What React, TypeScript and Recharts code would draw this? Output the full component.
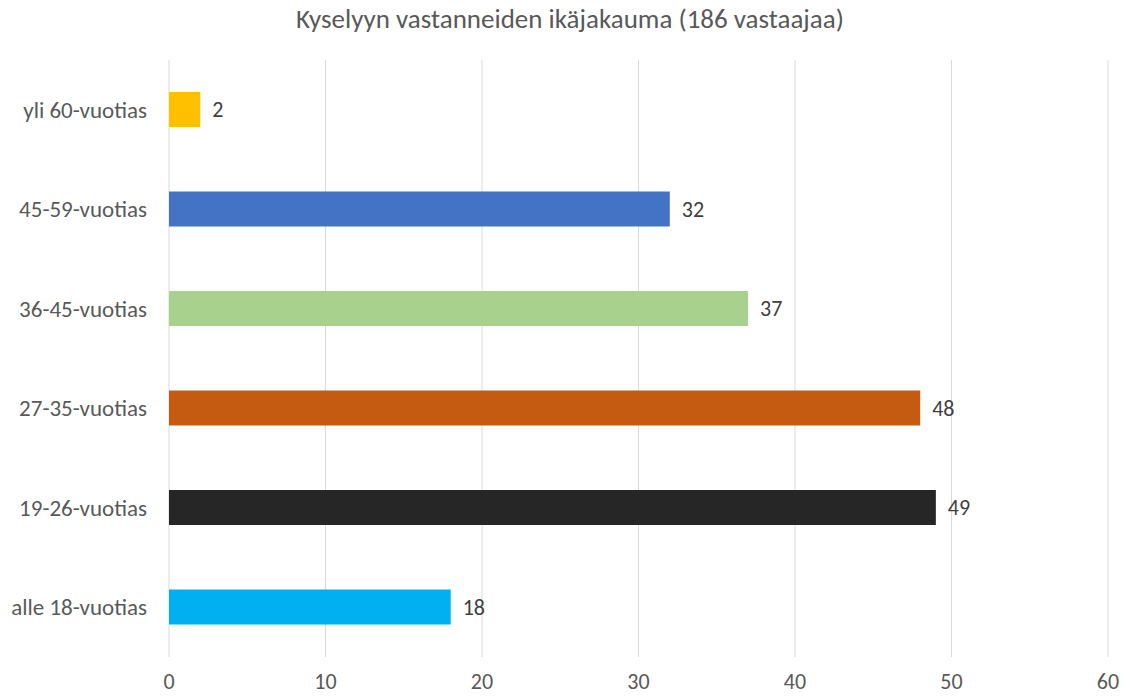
import { BarChart, Bar, XAxis, YAxis, CartesianGrid, Cell, LabelList } from "recharts";

const ageGroups = [
  "yli 60-vuotias",
  "45-59-vuotias",
  "36-45-vuotias",
  "27-35-vuotias",
  "19-26-vuotias",
  "alle 18-vuotias",
];
const respondents = [2, 32, 37, 48, 49, 18];
const barColors = ["#FFC000", "#4472C4", "#A9D18E", "#C55A11", "#262626", "#00B0F0"];
const xTicks = [0, 10, 20, 30, 40, 50, 60];

const data = ageGroups.map((label, i) => ({ label, value: respondents[i] }));

const font = "Carlito, 'Liberation Sans', 'Open Sans', sans-serif";

export default function App() {
  return (
    <div style={{ position: "absolute", left: 0, top: 0, width: 1128, height: 697, background: "#fff", fontFamily: font }}>
      <div
        style={{
          position: "absolute",
          top: 2,
          left: 0,
          width: 1140,
          textAlign: "center",
          fontSize: 27,
          color: "#595959",
        }}
      >
        Kyselyyn vastanneiden ikäjakauma (186 vastaajaa)
      </div>
      <BarChart
        width={1128}
        height={697}
        data={data}
        layout="vertical"
        margin={{ top: 60, right: 20, bottom: 0, left: 0 }}
      >
        <CartesianGrid horizontal={false} stroke="#d9d9d9" />
        <XAxis
          type="number"
          domain={[0, 60]}
          ticks={xTicks}
          axisLine={false}
          tickLine={false}
          tickSize={0}
          tickMargin={16}
          height={40}
          tick={{ fill: "#595959", fontSize: 22 }}
        />
        <YAxis
          type="category"
          dataKey="label"
          width={169}
          axisLine={false}
          tickLine={false}
          tickSize={0}
          tickMargin={22}
          tick={{ fill: "#595959", fontSize: 23 }}
        />
        <Bar dataKey="value" barSize={35} isAnimationActive={false}>
          {data.map((d, i) => (
            <Cell key={d.label} fill={barColors[i]} />
          ))}
          <LabelList dataKey="value" position="right" offset={12} fill="#404040" fontSize={22} />
        </Bar>
      </BarChart>
    </div>
  );
}
